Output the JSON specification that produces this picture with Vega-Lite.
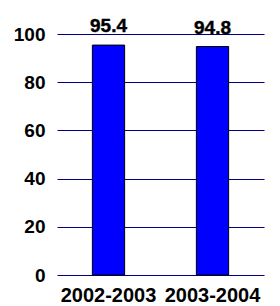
{
  "$schema": "https://vega.github.io/schema/vega-lite/v6.json",
  "width": 207,
  "height": 241,
  "autosize": "none",
  "padding": {"left": 57, "top": 34, "right": 16, "bottom": 31},
  "config": {"view": {"stroke": null}, "font": "Liberation Sans"},
  "data": {"values": [
    {"year": "2002-2003", "value": 95.4},
    {"year": "2003-2004", "value": 94.8}
  ]},
  "encoding": {
    "x": {"field": "year", "type": "nominal", "sort": null,
      "scale": {"paddingInner": 0.69, "paddingOuter": 0.34},
      "axis": {"title": null, "labelAngle": 0, "domain": false, "ticks": false,
        "labelFontSize": 20, "labelFontWeight": "bold", "labelColor": "#000000", "labelPadding": 10}},
    "y": {"field": "value", "type": "quantitative",
      "scale": {"domain": [0, 100], "nice": false},
      "axis": {"title": null, "values": [0, 20, 40, 60, 80, 100], "domain": false, "ticks": false,
        "grid": true, "gridColor": "#000080", "gridWidth": 1, "gridOpacity": 1,
        "labelFontSize": 19, "labelFontWeight": "bold", "labelColor": "#000000", "labelPadding": 12}}
  },
  "layer": [
    {"mark": {"type": "bar", "fill": "#0000FF", "stroke": "#000000", "strokeWidth": 1}},
    {"mark": {"type": "text", "font": "Arial", "fontSize": 19, "fontWeight": "bold", "fill": "#000000", "stroke": "#000000", "strokeWidth": 0.4, "baseline": "alphabetic", "dy": -13},
      "encoding": {"text": {"field": "value", "type": "quantitative", "format": ".1f"}}}
  ]
}
